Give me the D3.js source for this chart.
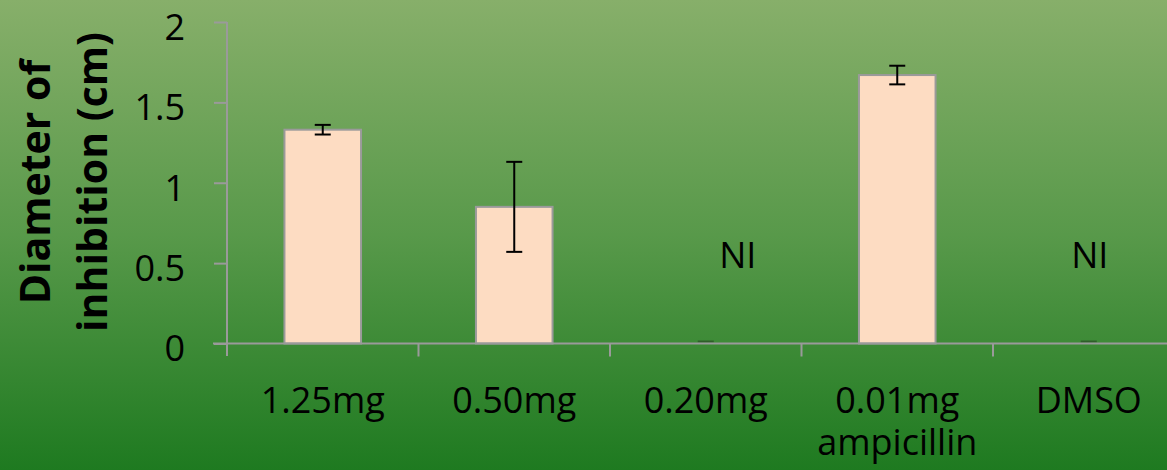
<!DOCTYPE html>
<html>
<head>
<meta charset="utf-8">
<script src="https://cdn.jsdelivr.net/npm/d3@7/dist/d3.min.js"></script>
<style>
  html, body { margin: 0; padding: 0; overflow: hidden; }
  svg { display: block; }
</style>
</head>
<body>
<svg id="chart" width="1167" height="470"></svg>
<script>
// ---- data ----
const categories = ["1.25mg", "0.50mg", "0.20mg", "0.01mg\nampicillin", "DMSO"];
const values = [1.33, 0.85, 0, 1.67, 0];
const errors = [0.03, 0.28, 0, 0.058, 0];
const annotations = ["", "", "NI", "", "NI"];
const yTicks = [0, 0.5, 1, 1.5, 2];
const yTitleLines = ["Diameter of", "inhibition (cm)"];

// ---- layout ----
const W = 1167, H = 470;
const x0 = 227, step = 191.5;
const yTop = 22, yBase = 343.5;
const svg = d3.select("#chart");

// background gradient
const defs = svg.append("defs");
const grad = defs.append("linearGradient").attr("id", "bg").attr("x1", 0).attr("y1", 0).attr("x2", 0).attr("y2", 1);
grad.append("stop").attr("offset", "0%").attr("stop-color", "#87af6a");
grad.append("stop").attr("offset", "50%").attr("stop-color", "#58994a");
grad.append("stop").attr("offset", "100%").attr("stop-color", "#1e7a20");
svg.append("rect").attr("width", W).attr("height", H).attr("fill", "url(#bg)");

const x = d3.scaleBand().domain(categories).range([x0, x0 + step * categories.length]).padding(0);
const y = d3.scaleLinear().domain([0, 2]).range([yBase, yTop]);

const font = "'Open Sans', 'Noto Sans', sans-serif";
const axisColor = "#9a9a9a";
const barW = x.bandwidth() * 0.40;

// bars
svg.append("g").selectAll("rect").data(categories).join("rect")
  .attr("x", d => x(d) + x.bandwidth() / 2 - barW / 2)
  .attr("y", (d, i) => y(values[i]))
  .attr("width", barW)
  .attr("height", (d, i) => y(0) - y(values[i]))
  .attr("fill", "#fddcc2")
  .attr("stroke", axisColor)
  .attr("stroke-width", 2)
  .attr("display", (d, i) => values[i] > 0 ? null : "none");

// error bars
const capW = 16;
const eb = svg.append("g").attr("stroke", "#000").attr("stroke-width", 2);
categories.forEach((c, i) => {
  const cx = x(c) + x.bandwidth() / 2;
  const hi = y(values[i] + errors[i]), lo = y(values[i] - errors[i]);
  eb.append("line").attr("x1", cx).attr("x2", cx).attr("y1", hi).attr("y2", lo);
  eb.append("line").attr("x1", cx - capW / 2).attr("x2", cx + capW / 2).attr("y1", hi).attr("y2", hi)
    .attr("stroke", values[i] > 0 ? "#000" : "#2f5e2a").attr("transform", values[i] > 0 ? null : "translate(0,-2)");
  eb.append("line").attr("x1", cx - capW / 2).attr("x2", cx + capW / 2).attr("y1", lo).attr("y2", lo)
    .attr("display", values[i] > 0 ? null : "none");
});

// y axis
const yAxis = svg.append("g").attr("transform", `translate(${x0},0)`)
  .call(d3.axisLeft(y).tickValues(yTicks).tickSize(13).tickPadding(29)
    .tickFormat(d => d3.format("")(d)));
yAxis.select(".domain").attr("stroke", axisColor).attr("stroke-width", 2)
  .attr("d", `M0,${yTop}V${yBase + 12.5}`);
yAxis.selectAll(".tick line").attr("stroke", axisColor).attr("stroke-width", 2);
yAxis.selectAll(".tick text").attr("font-family", font).attr("font-size", 36).attr("fill", "#000").attr("dy", "0.48em");

// x axis
const xAxisG = svg.append("g");
xAxisG.append("line").attr("x1", x0 - 14).attr("x2", W).attr("y1", yBase).attr("y2", yBase)
  .attr("stroke", axisColor).attr("stroke-width", 2);
xAxisG.selectAll("line.tk").data(categories.slice(1)).join("line").attr("class", "tk")
  .attr("x1", d => x(d)).attr("x2", d => x(d)).attr("y1", yBase).attr("y2", yBase + 13)
  .attr("stroke", axisColor).attr("stroke-width", 2);

// category labels
const labels = svg.append("g").attr("font-family", font).attr("font-size", 36).attr("fill", "#000").attr("text-anchor", "middle");
categories.forEach(c => {
  const t = labels.append("text").attr("x", x(c) + x.bandwidth() / 2).attr("y", 413);
  c.split("\n").forEach((line, j) => {
    t.append("tspan").attr("x", x(c) + x.bandwidth() / 2).attr("dy", j === 0 ? 0 : 42).text(line);
  });
});

// NI annotations
const niOffsets = [0, 0, 32, 0, 1];
svg.append("g").attr("font-family", font).attr("font-size", 36).attr("fill", "#000").attr("text-anchor", "middle")
  .selectAll("text").data(categories).join("text")
  .attr("x", (d, i) => x(d) + x.bandwidth() / 2 + niOffsets[i])
  .attr("y", y(0.47))
  .text((d, i) => annotations[i]);

// y title
const yt = svg.append("text").attr("font-family", font).attr("font-size", 41).attr("font-weight", "bold")
  .attr("fill", "#000").attr("text-anchor", "middle")
  .attr("transform", "translate(0,182) rotate(-90)");
yTitleLines.forEach((l, j) => {
  yt.append("tspan").attr("x", 0).attr("y", 50 + j * 57).text(l);
});
</script>
</body>
</html>
